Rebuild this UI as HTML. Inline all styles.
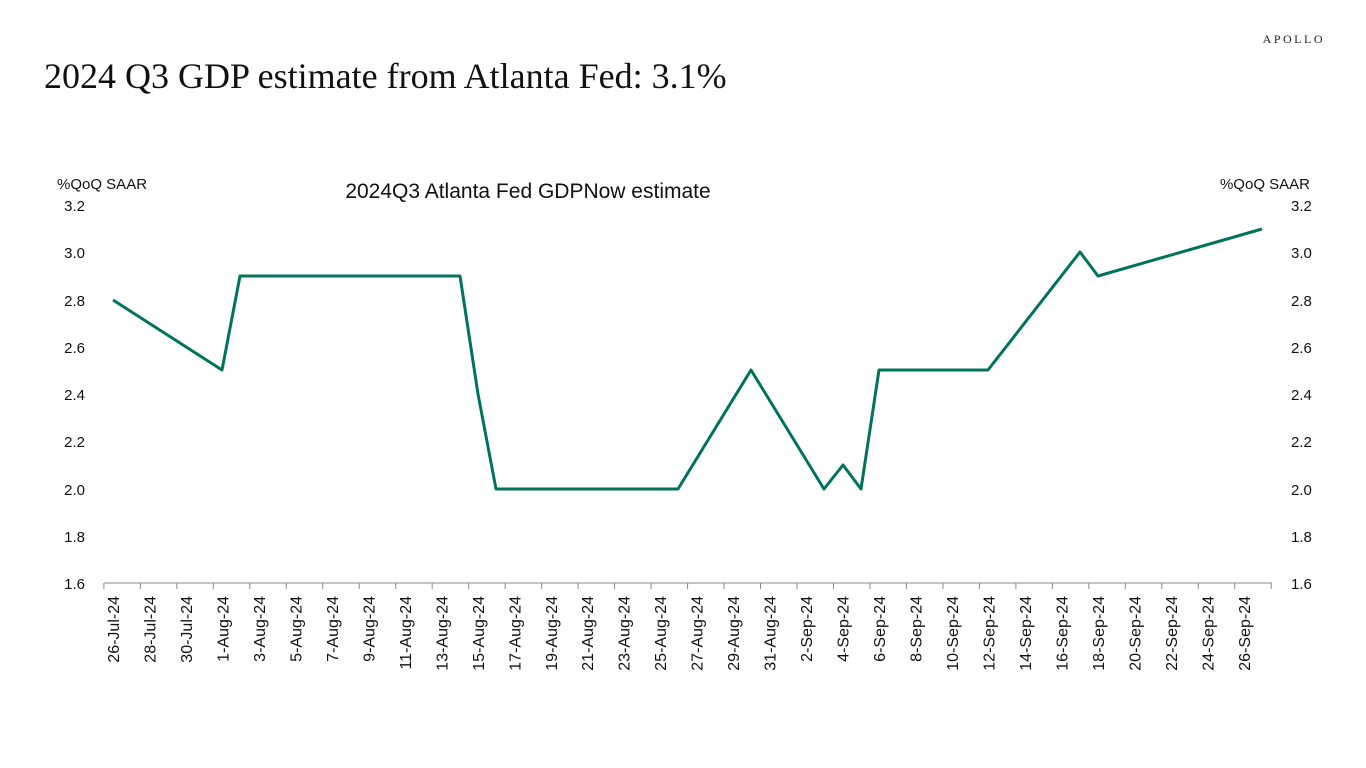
<!DOCTYPE html>
<html><head><meta charset="utf-8"><style>
body{margin:0;background:#fff;width:1366px;height:768px;overflow:hidden}
svg{display:block}
</style></head><body>
<svg width="1366" height="768" xmlns="http://www.w3.org/2000/svg" font-family="Liberation Sans, sans-serif">
<text x="1325" y="43" text-anchor="end" font-family="Liberation Serif, serif" font-size="12" letter-spacing="2.5" fill="#222">APOLLO</text>
<text x="44" y="88" font-family="Liberation Serif, serif" font-size="36" fill="#111">2024 Q3 GDP estimate from Atlanta Fed: 3.1%</text>
<text x="528" y="198" text-anchor="middle" font-size="21" fill="#111">2024Q3 Atlanta Fed GDPNow estimate</text>
<text x="57" y="189" font-size="15" fill="#111">%QoQ SAAR</text>
<text x="1310" y="189" text-anchor="end" font-size="15" fill="#111">%QoQ SAAR</text>
<g font-size="15" fill="#111">
<text x="85" y="211" text-anchor="end">3.2</text><text x="85" y="258" text-anchor="end">3.0</text><text x="85" y="306" text-anchor="end">2.8</text><text x="85" y="353" text-anchor="end">2.6</text><text x="85" y="400" text-anchor="end">2.4</text><text x="85" y="447" text-anchor="end">2.2</text><text x="85" y="495" text-anchor="end">2.0</text><text x="85" y="542" text-anchor="end">1.8</text><text x="85" y="589" text-anchor="end">1.6</text>
<text x="1291" y="211">3.2</text><text x="1291" y="258">3.0</text><text x="1291" y="306">2.8</text><text x="1291" y="353">2.6</text><text x="1291" y="400">2.4</text><text x="1291" y="447">2.2</text><text x="1291" y="495">2.0</text><text x="1291" y="542">1.8</text><text x="1291" y="589">1.6</text>
</g>
<line x1="104" y1="583" x2="1272" y2="583" stroke="#888" stroke-width="1"/>
<g id="ticks" stroke="#888" stroke-width="1"></g>
<g id="labels" font-size="16" fill="#111"></g>
<polyline fill="none" stroke="#00735a" stroke-width="3" stroke-linejoin="round" points="113,300 222,370 240,276 460,276 478,394 496,489 678,489 751,370 824,489 843,465 861,489 879,370 988,370 1080,252 1098,276 1262,229"/>
</svg>
<script>
var L=["26-Jul-24","28-Jul-24","30-Jul-24","1-Aug-24","3-Aug-24","5-Aug-24","7-Aug-24","9-Aug-24","11-Aug-24","13-Aug-24","15-Aug-24","17-Aug-24","19-Aug-24","21-Aug-24","23-Aug-24","25-Aug-24","27-Aug-24","29-Aug-24","31-Aug-24","2-Sep-24","4-Sep-24","6-Sep-24","8-Sep-24","10-Sep-24","12-Sep-24","14-Sep-24","16-Sep-24","18-Sep-24","20-Sep-24","22-Sep-24","24-Sep-24","26-Sep-24"];
var ns="http://www.w3.org/2000/svg",g=document.getElementById('labels'),t=document.getElementById('ticks');
for(var k=0;k<=32;k++){var x=113+18.24*(2*k-0.5);var l=document.createElementNS(ns,'line');l.setAttribute('x1',x);l.setAttribute('x2',x);l.setAttribute('y1',583);l.setAttribute('y2',589);t.appendChild(l);}
L.forEach(function(s,k){var x=113+18.24*2*k+6;var e=document.createElementNS(ns,'text');e.setAttribute('transform','translate('+x+',596) rotate(-90)');e.setAttribute('text-anchor','end');e.textContent=s;g.appendChild(e);});
</script>
</body></html>
